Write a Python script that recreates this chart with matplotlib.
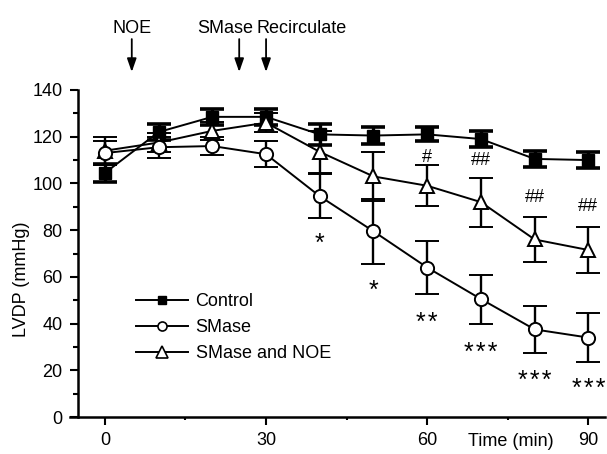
import matplotlib
matplotlib.use("Agg")
import matplotlib.pyplot as plt
from matplotlib.lines import Line2D

plt.rcParams['font.family'] = ['Liberation Sans', 'DejaVu Sans']

# ---- data ----
time = [0, 10, 20, 30, 40, 50, 60, 70, 80, 90]
control = [104.5, 122, 128.5, 128.5, 121, 120.5, 121, 119, 110.5, 110]
control_err = [4, 3.5, 3.5, 3.5, 4.5, 3.5, 3, 3.5, 3.5, 3.5]
smase = [113, 115.5, 116, 112.5, 94.5, 79.5, 64, 50.5, 37.5, 34]
smase_err = [5, 4.5, 4, 5.5, 9.5, 14, 11.5, 10.5, 10, 10.5]
noe = [114, 117.5, 122.5, 126, 113.5, 103, 99, 92, 76, 71.5]
noe_err = [6, 4, 4, 4, 9, 10.5, 8.7, 10.5, 9.5, 10]

star_x = [40, 50, 60, 70, 80, 90]
star_labels = ['*', '*', '*\u200a*', '*\u200a*\u200a*', '*\u200a*\u200a*', '*\u200a*\u200a*']
star_y = [77, 56.5, 43, 30, 18, 14.7]

hash_x = [60, 70, 80, 90]
hash_labels = ['#', '##', '##', '##']
hash_y = [111, 110, 94, 90]

event_x = [5, 25, 30]
event_labels = ['NOE', 'SMase', 'Recirculate']

yticks = [0, 20, 40, 60, 80, 100, 120, 140]
xticks = [0, 30, 60, 90]

# ---- figure ----
W, H = 607, 454
fig = plt.figure(figsize=(W / 100, H / 100), dpi=100)
ax = fig.add_axes([70 / W, (H - 417) / H, (605 - 70) / W, (417 - 90) / H])
ax.set_xlim(-6.5, 93.1)
ax.set_ylim(0, 140)

for s in ['top', 'right']:
    ax.spines[s].set_visible(False)
ax.spines['left'].set_position(('data', -5.03))
ax.spines['left'].set_linewidth(1.8)
ax.spines['bottom'].set_linewidth(1.8)
ax.spines['left'].set_bounds(0, 140)

ax.set_yticks(yticks)
ax.set_yticks([10, 30, 50, 70, 90, 110, 130], minor=True)
ax.set_xticks(xticks)
ax.set_xticks([15, 45, 75], minor=True)
ax.tick_params(axis='both', which='major', direction='out', length=6, width=1.5,
               labelsize=13, pad=5)
ax.tick_params(axis='y', which='minor', direction='out', length=3.6, width=1.5)
ax.tick_params(axis='x', which='minor', direction='out', length=2.2, width=1.5)

common = dict(color='black', linewidth=1.4, zorder=3)
ax.errorbar(time, control, yerr=control_err, fmt='-s', markersize=8,
            markerfacecolor='black', markeredgecolor='black',
            elinewidth=2.4, capsize=8.6, capthick=2.6, **common)
ax.errorbar(time, noe, yerr=noe_err, fmt='-^', markersize=10.5,
            markerfacecolor='white', markeredgecolor='black', markeredgewidth=1.4,
            elinewidth=1.7, capsize=8.6, capthick=1.9, **common)
ax.errorbar(time, smase, yerr=smase_err, fmt='-o', markersize=9.5,
            markerfacecolor='white', markeredgecolor='black', markeredgewidth=1.4,
            elinewidth=1.7, capsize=8.6, capthick=1.9, **common)

for x, y, t in zip(star_x, star_y, star_labels):
    ax.annotate(t, (x, y), xytext=(0, -4.5), textcoords='offset points',
                ha='center', va='center', fontsize=18)
for x, y, t in zip(hash_x, hash_y, hash_labels):
    ax.text(x, y, t, ha='center', va='center', fontsize=13)

# event arrows
for x in event_x:
    ax.annotate('', xy=(x, 147.7), xytext=(x, 161.8), annotation_clip=False,
                arrowprops=dict(arrowstyle='-|>,head_length=0.8,head_width=0.28',
                                color='black', lw=1.3, shrinkA=0, shrinkB=0))
ax.text(event_x[0], 164.4, event_labels[0], ha='center', va='baseline',
        fontsize=13, clip_on=False)
ax.text(27.65, 164.4, event_labels[1], ha='right', va='baseline',
        fontsize=13, clip_on=False)
ax.text(28.2, 164.4, event_labels[2], ha='left', va='baseline',
        fontsize=13, clip_on=False)

ax.set_ylabel('LVDP (mmHg)', fontsize=13, va='center')
ax.yaxis.set_label_coords((21.5 - 70) / 535, (417 - 279) / 327)
ax.set_xlabel('Time (min)', fontsize=13, va='center')
ax.xaxis.set_label_coords((511 - 70) / 535, -(441.5 - 417) / 327)

handles = [
    Line2D([], [], color='black', lw=1.4, marker='s', markersize=6,
           markerfacecolor='black'),
    Line2D([], [], color='black', lw=1.4, marker='o', markersize=6.5,
           markerfacecolor='white', markeredgewidth=1.2),
    Line2D([], [], color='black', lw=1.4, marker='^', markersize=8,
           markerfacecolor='white', markeredgewidth=1.2),
]
ax.legend(handles, ['Control', 'SMase', 'SMase and NOE'], loc='upper left',
          bbox_to_anchor=((136 - 70) / 535, (417 - 293) / 327), frameon=False,
          fontsize=13, borderpad=0, borderaxespad=0, handlelength=2.9,
          handletextpad=0.4, labelspacing=0.5)

fig.savefig('out.png', dpi=100)
